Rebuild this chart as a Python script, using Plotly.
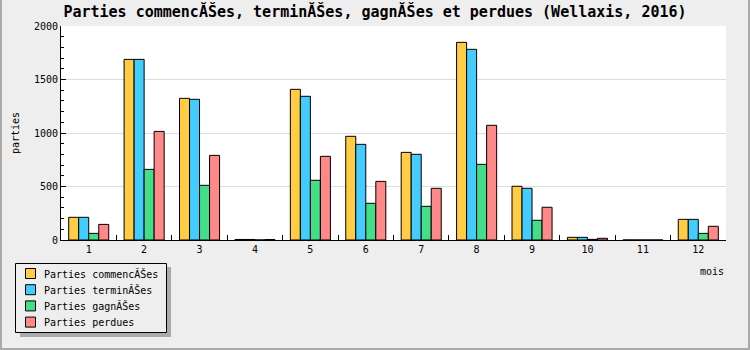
import plotly.graph_objects as go

months = ["1", "2", "3", "4", "5", "6", "7", "8", "9", "10", "11", "12"]
commencees = [212, 1688, 1324, 5, 1408, 969, 819, 1847, 502, 25, 0, 193]
terminees = [212, 1688, 1315, 5, 1343, 894, 801, 1782, 483, 25, 0, 193]
gagnees = [62, 660, 511, 0, 558, 343, 315, 707, 184, 6, 0, 62]
perdues = [146, 1015, 791, 4, 782, 548, 483, 1072, 306, 16, 0, 128]

series = [
    ("Parties commencĂŠes", commencees, "#ffcc44"),
    ("Parties terminĂŠes", terminees, "#44ccff"),
    ("Parties gagnĂŠes", gagnees, "#44dd88"),
    ("Parties perdues", perdues, "#ff8888"),
]

W, H = 750, 350
L, R, T, B = 61, 24, 26, 110
pw, ph = W - L - R, H - T - B

def px(x):
    return (x - L) / pw

def py(y):
    return (H - B - y) / ph

font = "DejaVu Sans Mono"

fig = go.Figure()
for name, vals, col in series:
    fig.add_trace(go.Bar(
        x=months, y=vals, name=name,
        marker=dict(color=col, line=dict(color="black", width=1)),
    ))

shapes = [
    # legend shadow
    dict(type="rect", xref="paper", yref="paper",
         x0=px(20), x1=px(171), y0=py(267), y1=py(337),
         fillcolor="#aaaaaa", line=dict(width=0), layer="above"),
    # legend box
    dict(type="rect", xref="paper", yref="paper",
         x0=px(15.5), x1=px(166.5), y0=py(263.5), y1=py(332.5),
         fillcolor="#eeeeee", line=dict(color="black", width=1), layer="above"),
    # outer frame
    dict(type="rect", xref="paper", yref="paper",
         x0=px(1), x1=px(W - 1), y0=py(-5), y1=py(H - 1),
         fillcolor="rgba(0,0,0,0)", line=dict(color="#aaaaaa", width=2), layer="above"),
]
annotations = [
    dict(text="mois", xref="paper", yref="paper", x=px(726), y=py(271),
         xanchor="right", yanchor="middle", showarrow=False,
         font=dict(family=font, size=10)),
    dict(text="parties", xref="paper", yref="paper", x=px(15), y=py(133),
         xanchor="center", yanchor="middle", textangle=-90, showarrow=False,
         font=dict(family=font, size=10)),
]
for i, (name, vals, col) in enumerate(series):
    yc = 273.5 + i * 16.2
    shapes.append(dict(type="rect", xref="paper", yref="paper",
                       x0=px(25.5), x1=px(35.5), y0=py(yc - 5), y1=py(yc + 5),
                       fillcolor=col, line=dict(color="black", width=1), layer="above"))
    annotations.append(dict(text=name, xref="paper", yref="paper",
                            x=px(42), y=py(yc), xanchor="left", yanchor="middle",
                            showarrow=False, font=dict(family=font, size=10)))

fig.update_layout(
    width=W, height=H,
    margin=dict(l=L, r=R, t=T, b=B, autoexpand=False),
    paper_bgcolor="#eeeeee",
    plot_bgcolor="white",
    barmode="group",
    bargap=0.277,
    bargroupgap=0,
    font=dict(family=font, size=10, color="black"),
    title=dict(
        text="<b>Parties commencĂŠes, terminĂŠes, gagnĂŠes et perdues (Wellaxis, 2016)</b>",
        x=0.5, xref="container", xanchor="center",
        y=1 - 12 / H, yref="container", yanchor="middle",
        font=dict(family=font, size=15, color="black"),
    ),
    showlegend=False,
    xaxis=dict(
        type="category",
        tickson="boundaries",
        ticks="inside", ticklen=5, tickcolor="black", tickwidth=1,
        showline=True, linecolor="black", linewidth=1,
        showgrid=False,
        tickfont=dict(family=font, size=10),
        fixedrange=True,
    ),
    yaxis=dict(
        range=[0, 2000],
        tickvals=[0, 500, 1000, 1500, 2000],
        ticks="inside", ticklen=5, tickcolor="black", tickwidth=1,
        minor=dict(dtick=100, ticks="inside", ticklen=3, tickcolor="black", showgrid=False),
        showline=True, linecolor="black", linewidth=1,
        showgrid=True, gridcolor="#dddddd", gridwidth=1,
        zeroline=False,
        tickfont=dict(family=font, size=10),
        fixedrange=True,
    ),
    shapes=shapes,
    annotations=annotations,
)

fig.write_html("out.html")
